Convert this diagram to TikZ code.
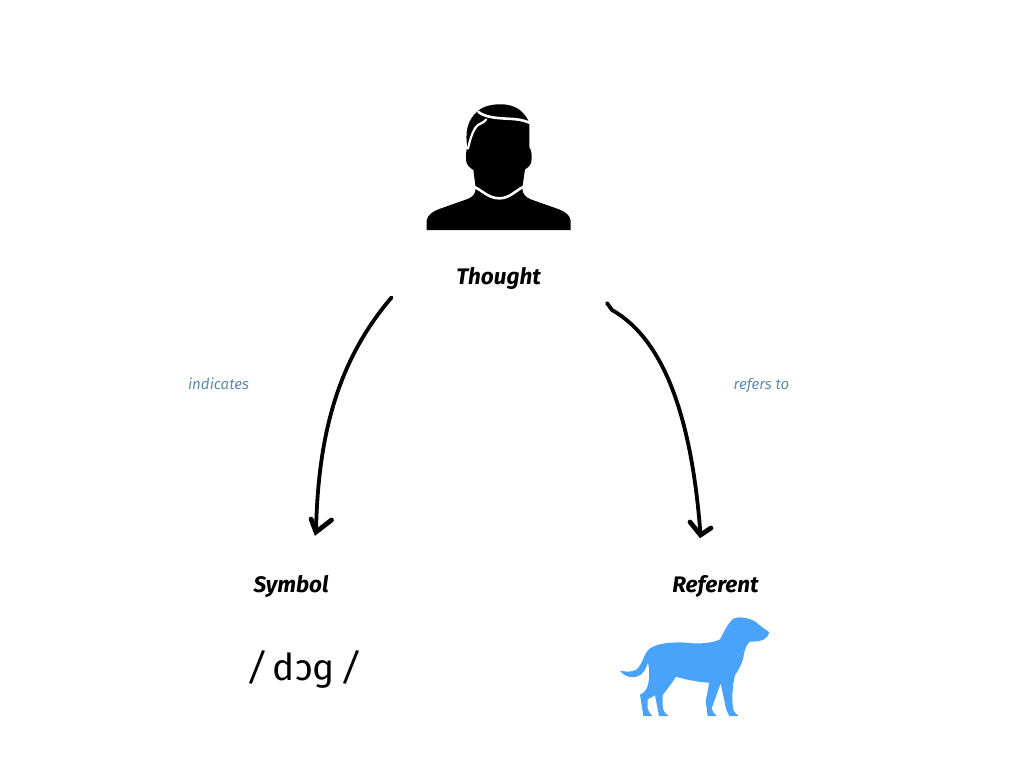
\documentclass[tikz,border=0pt]{standalone}
\usepackage{fontspec}
\setmainfont{Fira Sans}
\definecolor{dogblue}{HTML}{4AA3FB}
\definecolor{labelblue}{HTML}{5D8DB3}
\tikzset{
  title/.style={font=\fontsize{22.5}{26}\selectfont\bfseries\itshape,text=black,inner sep=0pt},
  edgelabel/.style={font=\fontsize{15}{18}\selectfont\itshape,text=labelblue,inner sep=0pt},
  inkline/.style={line width=3.8pt,line cap=round,line join=round,black},
  inkhead/.style={line width=4.8pt,line cap=round,line join=miter,black}
}
\begin{document}
\begin{tikzpicture}[x=1pt,y=-1pt]
\useasboundingbox (0,0) rectangle (1024,768);
% person
\begin{scope}[shift={(410,90)},scale=1/3]
\fill[black] (50,420) -- (50,392) .. controls (52,375) and (68,365) .. (85,358)
 -- (170,328) .. controls (190,320) and (197,312) .. (197,293)
 -- (190,240) .. controls (180,232) and (168,228) .. (168,205)
 .. controls (167,190) and (170,178) .. (172,172)
 .. controls (165,130) and (170,90) .. (205,62)
 .. controls (225,42) and (300,30) .. (335,65)
 .. controls (346,76) and (356,88) .. (358,104)
 -- (358,172) .. controls (364,180) and (366,195) .. (365,208)
 .. controls (364,225) and (355,232) .. (345,238)
 -- (337,293) .. controls (337,312) and (345,320) .. (362,328)
 -- (447,358) .. controls (465,365) and (480,375) .. (482,392)
 -- (482,420) -- cycle;
\draw[white,line width=2.6pt,line cap=round]
  (205,66) .. controls (225,80) and (250,84) .. (290,86) .. controls (320,87) and (340,90) .. (358,98);
\draw[white,line width=2.2pt,line cap=round]
  (229,88) .. controls (220,102) and (205,98) .. (195,115) .. controls (185,132) and (180,150) .. (174,176);
\draw[white,line width=2.6pt,line cap=round]
  (193,291) .. controls (215,300) and (235,325) .. (268,325) .. controls (300,325) and (318,300) .. (340,291);
\end{scope}
% dog
\begin{scope}[shift={(600,600)},scale=1/3]
\fill[dogblue] (508,97)
 .. controls (500,90) and (485,82) .. (470,68)
 .. controls (462,60) and (440,52) .. (415,52)
 .. controls (395,52) and (385,70) .. (360,118)
 .. controls (340,128) and (310,131) .. (280,130)
 .. controls (240,125) and (180,125) .. (150,145)
 .. controls (130,160) and (130,190) .. (110,208)
 .. controls (95,218) and (75,215) .. (60,212)
 .. controls (70,228) and (90,235) .. (110,230)
 .. controls (130,225) and (138,205) .. (144,188)
 .. controls (150,215) and (148,250) .. (140,265)
 .. controls (135,275) and (128,280) .. (120,284)
 -- (130,348) -- (157,348) .. controls (150,338) and (143,335) .. (143,325)
 -- (143,298) -- (165,286)
 -- (177,348) -- (205,348) .. controls (195,338) and (190,335) .. (188,320)
 -- (188,285) .. controls (200,270) and (215,250) .. (228,230)
 .. controls (260,240) and (300,247) .. (327,248)
 .. controls (325,270) and (320,285) .. (317,302)
 -- (323,348) -- (350,348) .. controls (342,338) and (335,335) .. (335,325)
 -- (362,250) -- (377,322) .. controls (380,335) and (385,340) .. (388,348)
 -- (416,348) .. controls (405,338) and (398,335) .. (398,315)
 .. controls (395,280) and (400,245) .. (405,225)
 .. controls (420,205) and (430,180) .. (432,160)
 .. controls (435,145) and (442,130) .. (450,125)
 .. controls (470,125) and (500,125) .. (508,97) -- cycle;
\end{scope}
% labels
\node[title] (thought) at (498.5,278) {Thought};
\node[title] (symbol) at (291,586) {Symbol};
\node[title] (referent) at (715.5,586) {Referent};
\node[edgelabel] (indicates) at (218.5,384) {indicates};
\node[edgelabel] (refersto) at (761.5,385) {refers to};
\node[font=\fontsize{37}{42}\selectfont,text=black,inner sep=0pt] (ipa) at (304,669) {{\itshape/}\,dɔɡ\,{\itshape/}};
% connectors
\coordinate (ta) at (391.5,297.5);
\coordinate (sa) at (316,532);
\coordinate (tb) at (607,303);
\coordinate (tc) at (612,310);
\coordinate (rb) at (700.5,535);
\draw[inkline] (ta) .. controls (340,358) and (318,430) .. (sa);
\draw[inkhead] (311,519) -- (sa) -- (331.5,520);
\draw[inkline] (tb) -- (tc) .. controls (665,340) and (692,420) .. (rb);
\draw[inkhead] (690,522) -- (rb) -- (711,528);
\end{tikzpicture}
\end{document}
